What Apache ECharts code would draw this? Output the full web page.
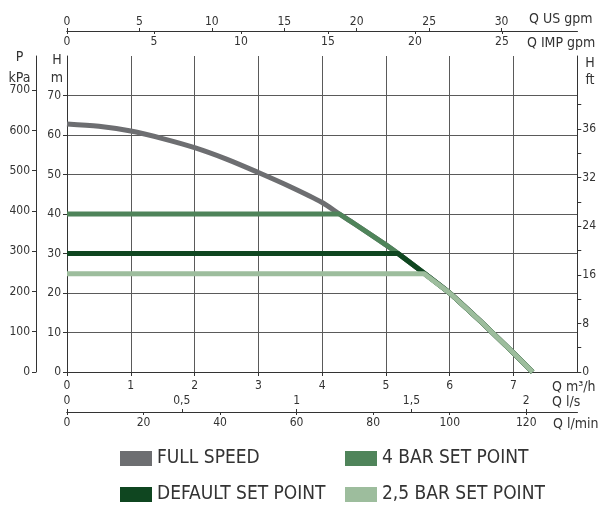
<!DOCTYPE html>
<html>
<head>
<meta charset="utf-8">
<script src="https://cdn.jsdelivr.net/npm/echarts@6/dist/echarts.min.js"></script>
<style>html,body{margin:0;padding:0;background:#fff;}#c{width:599px;height:508px;}</style>
</head>
<body>
<div id="c"></div>
<script>
// ---- data ----
const qM3h  = [0, 0.5, 1, 1.5, 2, 2.5, 3, 3.5, 4, 4.27, 4.5, 5, 5.19, 5.6, 6, 6.5, 7, 7.3];
const hFull = [62.8, 62.2, 61.0, 59.1, 56.8, 53.9, 50.5, 46.9, 42.9, 40.0, 37.6, 32.2, 30.0, 25.0, 20.0, 12.6, 4.8, 0];
const fourBarH = 40,   fourBarKneeQ = 4.27;
const defaultH = 30,   defaultKneeQ = 5.19;
const twoFiveH = 24.9, twoFiveKneeQ = 5.6;
const seriesNames = ['FULL SPEED', '4 BAR SET POINT', 'DEFAULT SET POINT', '2,5 BAR SET POINT'];

// tick labels
const m3hTicks  = [0, 1, 2, 3, 4, 5, 6, 7];
const lsTicks   = [0, 0.5, 1, 1.5, 2];
const lsLabels  = ['0', '0,5', '1', '1,5', '2'];
const lminTicks = [0, 20, 40, 60, 80, 100, 120];
const usTicks   = [0, 5, 10, 15, 20, 25, 30];
const impTicks  = [0, 5, 10, 15, 20, 25];
const hTicks    = [0, 10, 20, 30, 40, 50, 60, 70];
const kpaTicks  = [0, 100, 200, 300, 400, 500, 600, 700];
const ftLabels  = ['0', '8', '16', '24', '32', '36'];

// unit conversions
const M3H_MAX = 8, H_MAX = 80;
const LS_PER_M3H = 1 / 3.6, LMIN_PER_M3H = 1000 / 60, USGPM_PER_M3H = 4.4029, IMPGPM_PER_M3H = 3.6662;
const KPA_PER_M = 9.81;
const FT_STEPS_MAX = 13;

const fullData = qM3h.map((q, i) => [q, hFull[i]]);
function setPointData(h, kneeQ) {
  const d = [[0, h], [kneeQ, h]];
  qM3h.forEach((q, i) => { if (q > kneeQ) d.push([q, hFull[i]]); });
  return d;
}

const FONT = "'Liberation Sans Narrow', 'DejaVu Sans Condensed', 'Roboto Condensed', sans-serif";
const TXT = '#333';
const colors = ['#6d6e71', '#4f845a', '#0f4620', '#9dbd9d'];

const lbl = (extra) => Object.assign({ color: TXT, fontFamily: FONT, fontSize: 12 }, extra || {});
const axLine = { show: true, onZero: false, lineStyle: { color: '#333', width: 1 } };
const tick = (extra) => Object.assign({ show: true, length: 4, lineStyle: { color: '#333', width: 1 } }, extra || {});

const chart = echarts.init(document.getElementById('c'), null, { renderer: 'canvas' });

const option = {
  animation: false,
  backgroundColor: '#fff',
  grid: { left: 67, right: 20, top: 56, bottom: 136, containLabel: false },
  xAxis: [
    { type: 'value', position: 'bottom', min: 0, max: M3H_MAX, interval: 1,
      axisLine: axLine, axisTick: tick({ customValues: m3hTicks }),
      axisLabel: lbl({ margin: 8, customValues: m3hTicks }),
      splitLine: { show: true, lineStyle: { color: '#5a5a5a', width: 1 } } },
    { type: 'value', position: 'bottom', offset: 40, min: 0, max: M3H_MAX * LS_PER_M3H,
      axisLine: axLine, axisTick: tick({ inside: true, length: 3, customValues: lsTicks }),
      axisLabel: lbl({ inside: true, margin: 5, customValues: lsTicks,
        formatter: v => lsLabels[lsTicks.indexOf(v)] }),
      splitLine: { show: false } },
    { type: 'value', position: 'bottom', offset: 40, min: 0, max: M3H_MAX * LMIN_PER_M3H,
      axisLine: axLine, axisTick: tick({ length: 3, customValues: lminTicks }),
      axisLabel: lbl({ margin: 5, customValues: lminTicks }),
      splitLine: { show: false } },
    { type: 'value', position: 'top', offset: 25, min: 0, max: M3H_MAX * USGPM_PER_M3H,
      axisLine: axLine, axisTick: tick({ length: 3, customValues: usTicks }),
      axisLabel: lbl({ margin: 3, customValues: usTicks }),
      splitLine: { show: false } },
    { type: 'value', position: 'top', offset: 25, min: 0, max: M3H_MAX * IMPGPM_PER_M3H,
      axisLine: axLine, axisTick: tick({ inside: true, length: 3, customValues: impTicks }),
      axisLabel: lbl({ inside: true, margin: 5, customValues: impTicks }),
      splitLine: { show: false } }
  ],
  yAxis: [
    { type: 'value', position: 'left', min: 0, max: H_MAX, interval: 10,
      axisLine: axLine, axisTick: tick({ customValues: hTicks }),
      axisLabel: lbl({ margin: 6, customValues: hTicks }),
      splitLine: { show: true, lineStyle: { color: '#5a5a5a', width: 1 } } },
    { type: 'value', position: 'left', offset: 31, min: 0, max: H_MAX * KPA_PER_M,
      axisLine: axLine, axisTick: tick({ customValues: kpaTicks }),
      axisLabel: lbl({ margin: 6, customValues: kpaTicks }),
      splitLine: { show: false } },
    { type: 'value', position: 'right', min: 0, max: FT_STEPS_MAX,
      axisLine: axLine,
      axisTick: tick({ customValues: [0,1,2,3,4,5,6,7,8,9,10,11] }),
      axisLabel: lbl({ margin: 5, customValues: ftLabels.map((_, i) => i * 2),
        formatter: v => ftLabels[v / 2] }),
      splitLine: { show: false } }
  ],
  legend: [
    { data: [seriesNames[0]], left: 120, top: 449 },
    { data: [seriesNames[1]], left: 345, top: 449 },
    { data: [seriesNames[2]], left: 120, top: 485 },
    { data: [seriesNames[3]], left: 345, top: 485 }
  ].map(l => Object.assign(l, {
    padding: 0, itemWidth: 32, itemHeight: 15, itemGap: 0, icon: 'rect',
    textStyle: { color: TXT, fontFamily: FONT, fontSize: 19, padding: [0, 0, 0, 0] },
    selectedMode: false
  })),
  series: [
    { name: seriesNames[0], type: 'line', data: fullData, smooth: 0.3 },
    { name: seriesNames[1], type: 'line', data: setPointData(fourBarH, fourBarKneeQ), smooth: false },
    { name: seriesNames[2], type: 'line', data: setPointData(defaultH, defaultKneeQ), smooth: false },
    { name: seriesNames[3], type: 'line', data: setPointData(twoFiveH, twoFiveKneeQ), smooth: false }
  ].map((s, i) => Object.assign(s, {
    xAxisIndex: 0, yAxisIndex: 0, showSymbol: false, symbol: 'none',
    color: colors[i], lineStyle: { color: colors[i], width: 5, cap: 'butt', join: 'round' }, z: 2 + i
  })),
  graphic: [
    ['P', 19.5, 57, 'center'], ['kPa', 19.5, 78, 'center'],
    ['H', 57, 60, 'center'], ['m', 57, 78, 'center'],
    ['H', 590, 63, 'center'], ['ft', 590, 80, 'center'],
    ['Q US gpm', 529, 19, 'left'], ['Q IMP gpm', 527, 43, 'left'],
    ['Q m³/h', 552, 387, 'left'], ['Q l/s', 552, 402, 'left'], ['Q l/min', 553, 424, 'left']
  ].map(([t, x, y, a]) => ({
    type: 'text', x: x, y: y, silent: true,
    style: { text: t, fill: TXT, font: '14px ' + FONT, textAlign: a, textVerticalAlign: 'middle' }
  }))
};
chart.setOption(option);
</script>
</body>
</html>
